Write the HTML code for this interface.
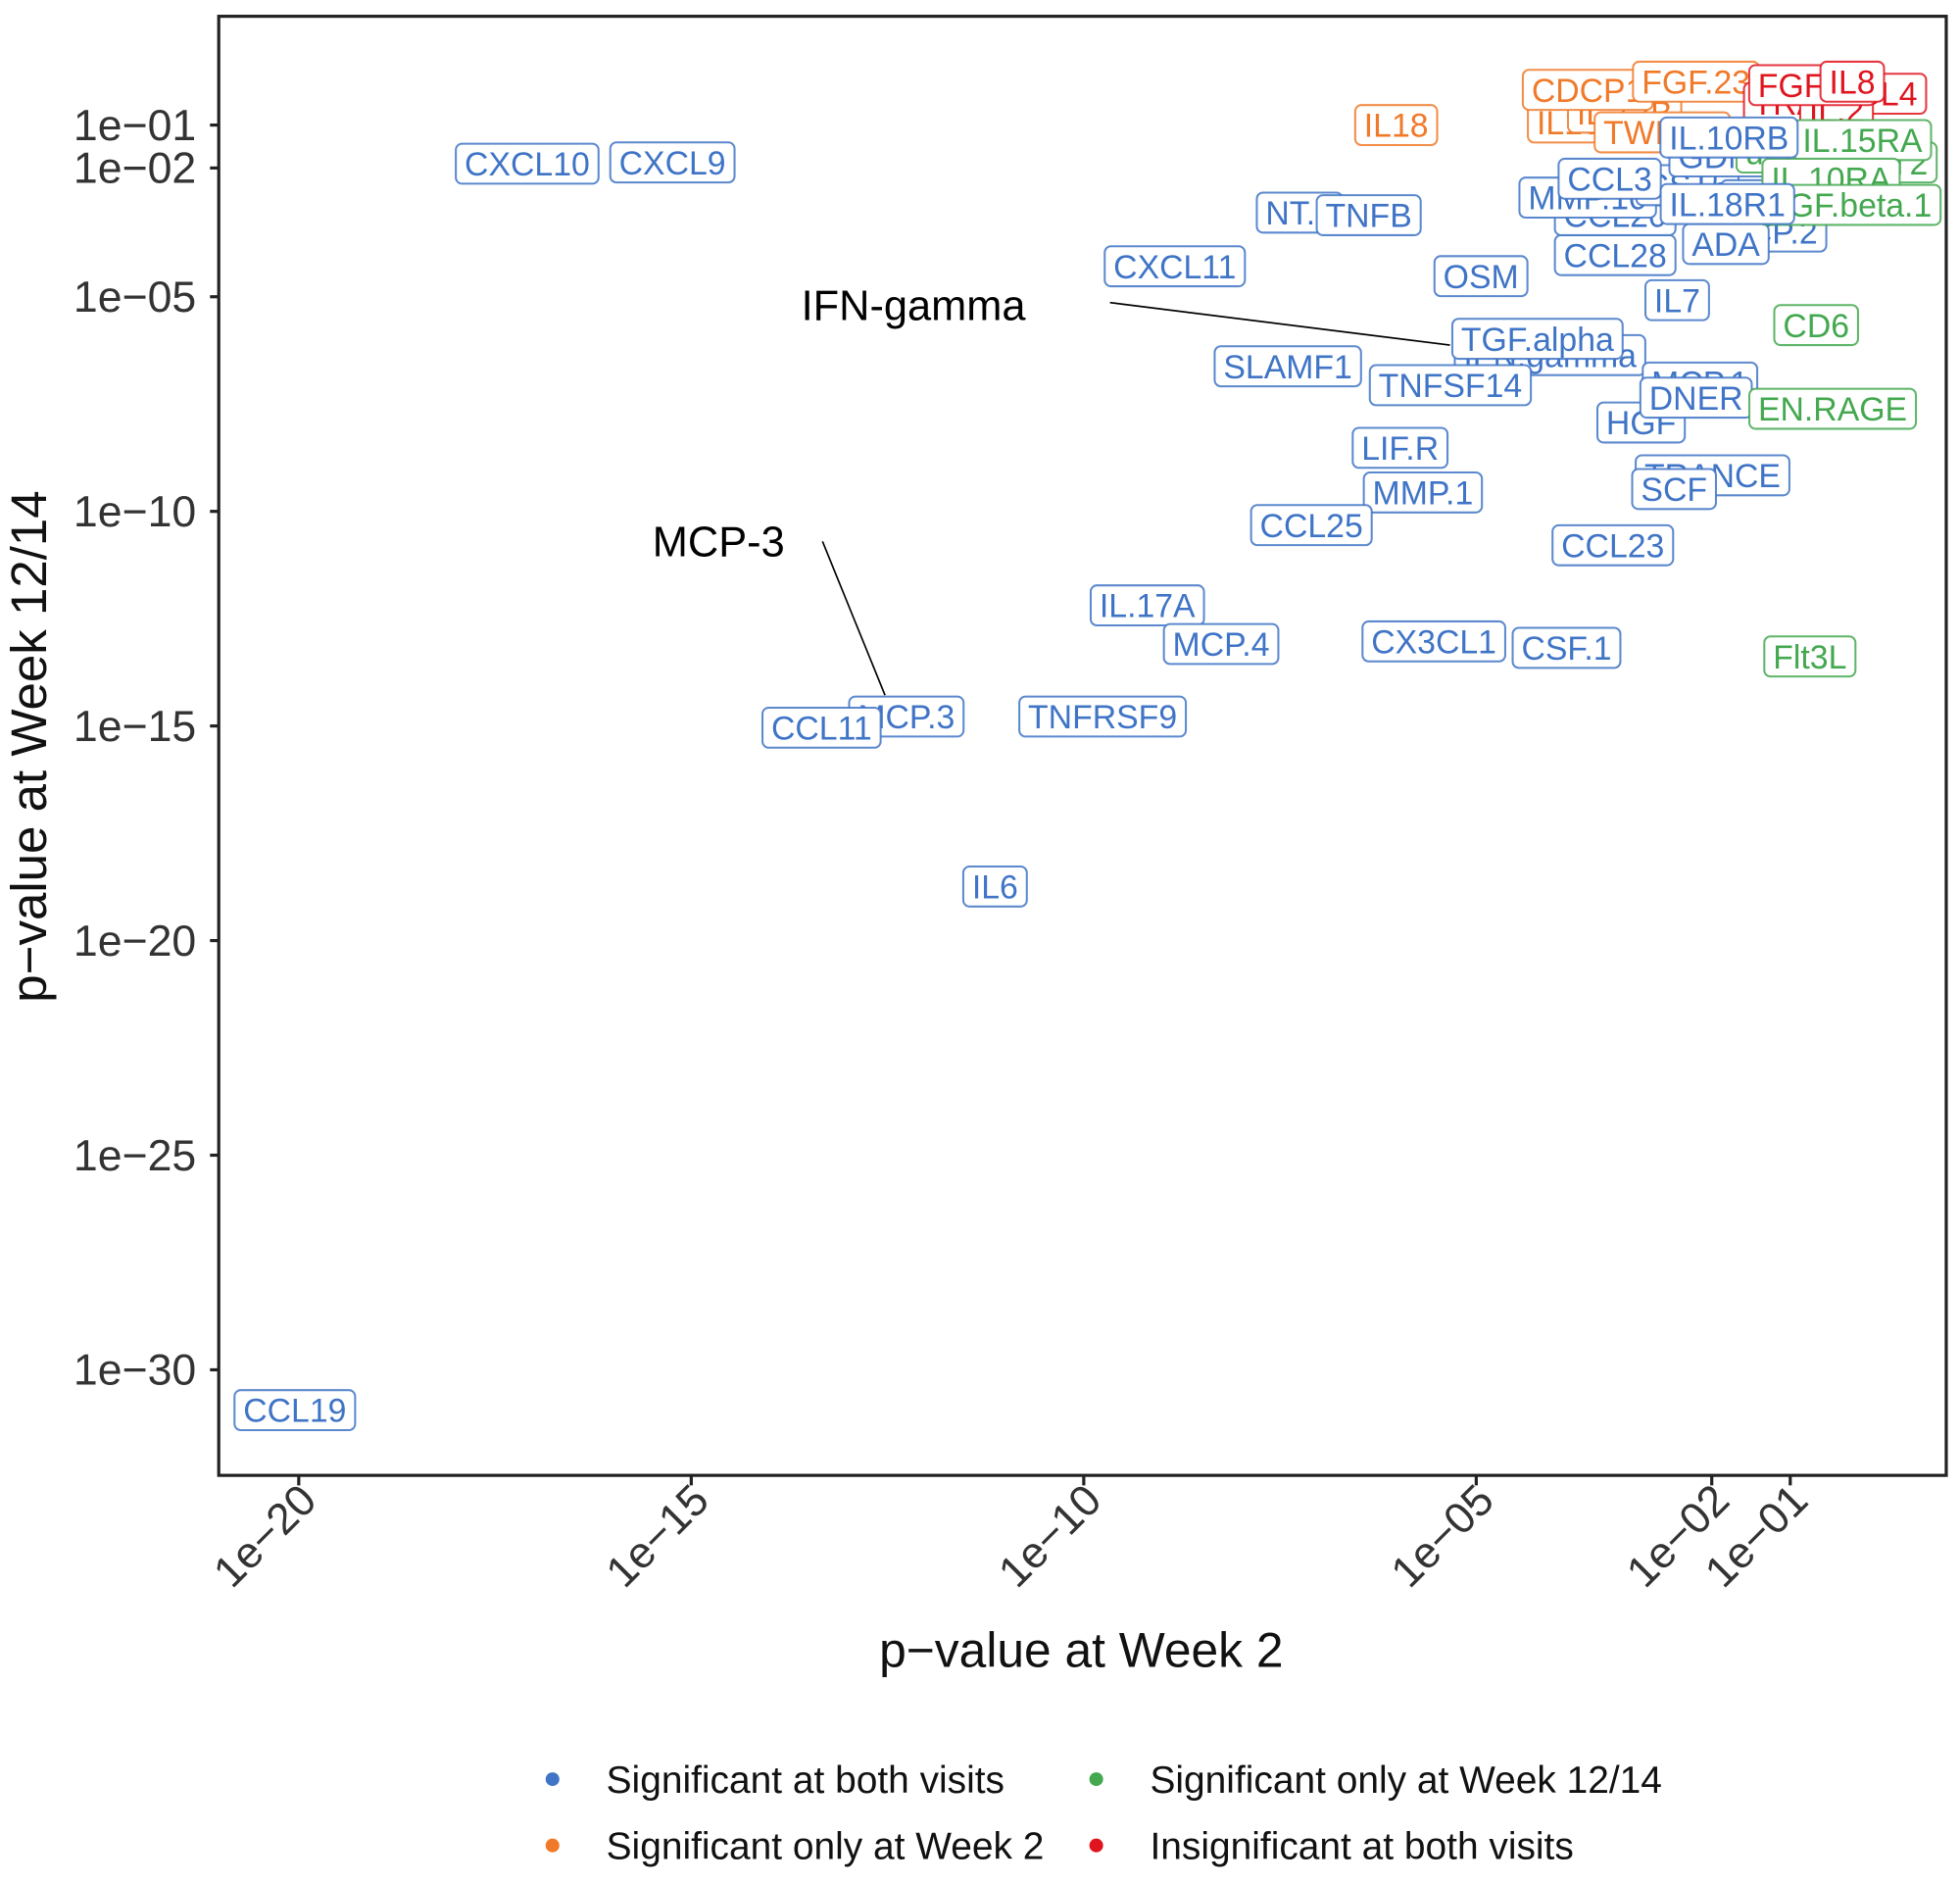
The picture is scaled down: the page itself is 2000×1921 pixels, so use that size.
<!DOCTYPE html>
<html><head><meta charset="utf-8">
<style>
html,body{margin:0;padding:0;background:#fff;}
svg{display:block;font-family:"Liberation Sans",Arial,sans-serif;}
</style></head>
<body>
<svg id="chart" width="2000" height="1921" viewBox="0 0 1568 1506" xmlns="http://www.w3.org/2000/svg">
  <rect x="0" y="0" width="1568" height="1506" fill="#fff"/>
  <rect x="175" y="13" width="1382" height="1167" fill="#fff" stroke="#222" stroke-width="2.5"/>
  <g id="yticks"></g>
  <g id="xticks"></g>
  <g id="labels"></g>
  <g id="annots"></g>
  <text transform="translate(37,597) rotate(-90)" text-anchor="middle" font-size="40" fill="#111">p−value at Week 12/14</text>
  <text x="865" y="1333" text-anchor="middle" font-size="39" fill="#111">p−value at Week 2</text>
  <g id="legend"></g>
</svg>
<script>
const NS="http://www.w3.org/2000/svg";
const groupNames=["Significant at both visits","Significant only at Week 2","Significant only at Week 12/14","Insignificant at both visits"];
const groupColors=["#3f74c6","#f07a2a","#43a84f","#e0141e"];
const yTickExps=[-1,-2,-5,-10,-15,-20,-25,-30];
const yTickLabels=["1e−01","1e−02","1e−05","1e−10","1e−15","1e−20","1e−25","1e−30"];
const xTickExps=[-20,-15,-10,-5,-2,-1];
const xTickLabels=["1e−20","1e−15","1e−10","1e−05","1e−02","1e−01"];
// label data: name, log10 p week2, log10 p week12/14, group index
const names=["CXCL10","CXCL9","CCL19","NT.3","TNFB","CXCL11","OSM","IFN.gamma","TGF.alpha","SLAMF1","TNFSF14","LIF.R","MMP.1","CCL25","IL.17A","MCP.4","CX3CL1","CSF.1","TNFRSF9","MCP.3","CCL11","IL6","CCL23","TRANCE","SCF","HGF","MCP.1","DNER","IL7","CCL28","MCP.2","ADA","CCL20","MMP.10","CST5","CD5","GDNF","IL18","IL10","IL.12B","TWEAK","CDCP1","FGF.23","TRAIL","CCL4","IL.2","FGF.21","IL8","uPA","SIRT2","IL.15RA","IL.10RA","TGF.beta.1","IL.10RB","CCL3","IL.18R1","CD6","EN.RAGE","Flt3L"];
const logW2=[-17.09,-15.24,-20.05,-7.25,-6.37,-8.84,-4.94,-4.06,-4.22,-7.40,-5.33,-5.97,-5.68,-7.10,-9.19,-8.25,-5.54,-3.85,-9.76,-12.26,-13.34,-11.13,-3.26,-1.99,-2.48,-2.90,-2.15,-2.20,-2.44,-3.23,-1.27,-1.82,-3.23,-3.58,-2.31,-1.35,-1.83,-6.02,-3.82,-3.11,-2.63,-3.58,-2.20,-0.88,0.08,-0.41,-0.72,-0.21,-1.19,0.16,-0.08,-0.48,-0.24,-1.78,-3.30,-1.80,-0.67,-0.46,-0.75];
const logW12=[-1.90,-1.87,-30.94,-3.04,-3.10,-4.29,-4.52,-6.36,-5.98,-6.62,-7.06,-8.52,-9.56,-10.32,-12.19,-13.09,-13.03,-13.18,-14.78,-14.78,-15.04,-18.74,-10.79,-9.16,-9.48,-7.93,-7.00,-7.35,-5.08,-4.03,-3.48,-3.77,-3.10,-2.69,-2.40,-2.75,-1.73,-1.00,-0.94,-0.71,-1.17,-0.18,0.01,-0.48,-0.27,-0.65,-0.07,0.01,-1.64,-1.87,-1.35,-2.25,-2.86,-1.29,-2.25,-2.84,-5.66,-7.61,-13.38];
const groups=[0,0,0,0,0,0,0,0,0,0,0,0,0,0,0,0,0,0,0,0,0,0,0,0,0,0,0,0,0,0,0,0,0,0,0,0,0,1,1,1,1,1,1,3,3,3,3,3,2,2,2,2,2,0,0,0,2,2,2];

function xs(e){return 239+(e+20)*62.8;}
function ys(e){return 100+(-1-e)*34.33;}
function mk(tag,attrs,parent){const el=document.createElementNS(NS,tag);for(const k in attrs)el.setAttribute(k,attrs[k]);parent.appendChild(el);return el;}

const yg=document.getElementById('yticks');
yTickExps.forEach((e,i)=>{
  const y=ys(e);
  const t=mk('line',{x1:168,x2:175,y1:y,y2:y,stroke:'#222','stroke-width':2.5},yg);
  
  
  const tx=mk('text',{x:157,y:y+12,'text-anchor':'end','font-size':35,fill:'#333'},yg);
  
  
  tx.textContent=yTickLabels[i];
});
const xg=document.getElementById('xticks');
xTickExps.forEach((e,i)=>{
  const x=xs(e);
  const t=mk('line',{x1:x,x2:x,y1:1180,y2:1188,stroke:'#222','stroke-width':2.5},xg);
  
  
  const tx=mk('text',{transform:`translate(${x+16},${1202}) rotate(-45)`,'text-anchor':'end','font-size':35,fill:'#333'},xg);
  
  
  tx.textContent=xTickLabels[i];
});

const lg=document.getElementById('labels');
names.forEach((n,i)=>{
  const cx=xs(logW2[i]), cy=ys(logW12[i]), col=groupColors[groups[i]];
  const g=mk('g',{},lg);
  
  
  const r=mk('rect',{rx:5,ry:5,fill:'#fff',stroke:col,'stroke-width':1.6,'stroke-opacity':0.85},g);
  const t=mk('text',{x:cx,y:cy+9.5,'text-anchor':'middle','font-size':26.5,fill:col},g);
  t.textContent=n;
  const w=t.getComputedTextLength();
  r.setAttribute('x',cx-w/2-7);r.setAttribute('y',cy-16);
  r.setAttribute('width',w+14);r.setAttribute('height',32);
});

const ag=document.getElementById('annots');
const a1=mk('line',{x1:888,y1:242,x2:1160,y2:276,stroke:'#000','stroke-width':1.3},ag);


const a1t=mk('text',{x:641,y:256,'font-size':34,fill:'#000'},ag);


a1t.textContent='IFN-gamma';
const a2=mk('line',{x1:658,y1:433,x2:708,y2:556,stroke:'#000','stroke-width':1.3},ag);


const a2t=mk('text',{x:522,y:445,'font-size':34,fill:'#000'},ag);


a2t.textContent='MCP-3';

const leg=document.getElementById('legend');
const lx=[442,442,877,877], ly=[1423,1476,1423,1476], gi=[0,1,2,3];
gi.forEach((g,k)=>{
  const e=mk('g',{},leg);
  
  
  mk('circle',{cx:lx[k],cy:ly[k],r:5.5,fill:groupColors[g]},e);
  const t=mk('text',{x:lx[k]+43,y:ly[k]+11,'font-size':30.5,fill:'#111'},e);
  t.textContent=groupNames[g];
});
</script>
</body></html>
